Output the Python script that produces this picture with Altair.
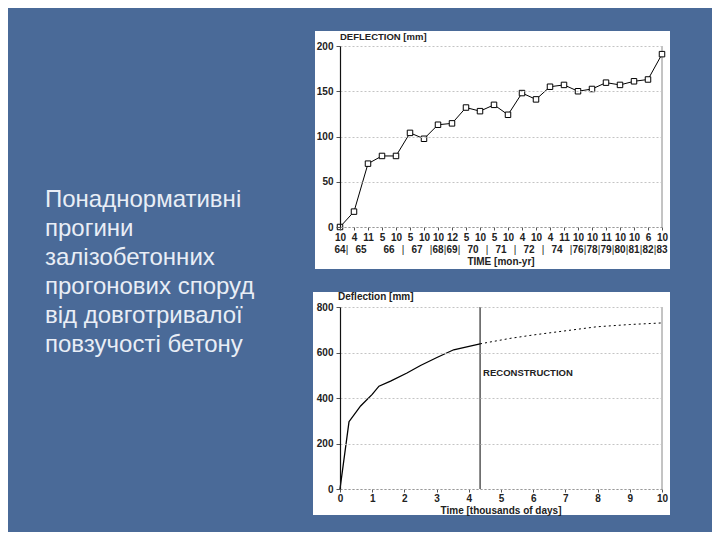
import altair as alt
import pandas as pd

# ---------------- data ----------------
slide_lines = ["Понаднормативні", "прогини", "залізобетонних",
               "прогонових споруд", "від довготривалої", "повзучості бетону"]

months = ["10", "4", "11", "5", "10", "5", "10", "10", "12", "5", "10", "5",
          "10", "4", "10", "4", "11", "10", "10", "11", "10", "10", "6", "10"]
deflection_top = [0, 17, 70, 78.5, 78.5, 104, 97.5, 113, 114.5, 132, 128, 135,
                  124, 148, 141, 155, 157, 150, 152.5, 159.5, 157, 161, 163, 191]
years = ["64", "65", "66", "67", "68", "69", "70", "71", "72", "74",
         "76", "78", "79", "80", "81", "82", "83"]
year_pos = [0, 1.5, 3.5, 5.5, 7, 8, 9.5, 11.5, 13.5, 15.5,
            17, 18, 19, 20, 21, 22, 23]
sep_pos = [0.5, 4.5, 6.5, 7.5, 8.5, 10.5, 12.5, 14.5, 16.5,
           17.5, 18.5, 19.5, 20.5, 21.5, 22.5]
top_y_ticks = [0, 50, 100, 150, 200]

measured_t = [0, 0.28, 0.64, 1.0, 1.21, 1.57, 2.08, 2.5, 3.01, 3.53, 4.35]
measured_d = [0, 296, 365, 416, 452, 474, 510, 543, 578, 612, 638]
predicted_t = [4.35, 5.28, 6.0, 6.93, 7.97, 9.0, 10.0]
predicted_d = [638, 662, 677, 694, 713, 723, 730]
reconstruction_t = 4.35
bottom_x_ticks = list(range(11))
bottom_y_ticks = [0, 200, 400, 600, 800]

# ---------------- style ----------------
BG = "#4a6a98"
FONT = "Liberation Sans"
W, H1, H2 = 322, 181, 182

one = pd.DataFrame({"k": [0]})

axis_common = dict(labelFont=FONT, labelFontSize=10, labelFontWeight="bold",
                   labelColor="#222", tickColor="#555", title=None, zindex=1)

# ---------------- top chart ----------------
top_df = pd.DataFrame({"idx": list(range(len(months))), "deflection": deflection_top})
yr_df = pd.DataFrame({"idx": year_pos, "year": years})
sep_df = pd.DataFrame({"idx": sep_pos, "s": ["|"] * len(sep_pos)})

month_expr = "[" + ",".join("'%s'" % m for m in months) + "][datum.value]"

x_top = alt.X("idx:Q", scale=alt.Scale(domain=[0, 23], nice=False, zero=False),
              axis=alt.Axis(values=list(range(24)), labelExpr=month_expr,
                            domainColor="#999", domainDash=[2, 2], grid=False,
                            tickSize=3, labelPadding=2, labelOverlap=False,
                            labelFlush=False, **axis_common))
y_top = alt.Y("deflection:Q", scale=alt.Scale(domain=[0, 200], nice=False),
              axis=alt.Axis(values=top_y_ticks, domainColor="#111", domainWidth=1.2,
                            grid=True, gridColor="#c4c4c4", gridDash=[2, 2],
                            tickSize=4, labelPadding=3, **axis_common))

# slide background: page area (8..712, 8..532) so nothing overflows the window
bg = alt.Chart(one).mark_rect(color=BG).encode(
    x=alt.value(-332), x2=alt.value(372), y=alt.value(-38), y2=alt.value(486))
white_top = alt.Chart(one).mark_rect(color="white").encode(
    x=alt.value(-25), x2=alt.value(330), y=alt.value(-15), y2=alt.value(223))
slide_text = alt.Chart(one).mark_text(
    text=slide_lines, align="left", baseline="alphabetic", font=FONT,
    fontSize=24, lineHeight=29, color="#e9eef6").encode(
    x=alt.value(-295), y=alt.value(161))
right_top = alt.Chart(one).mark_rule(color="#888", strokeWidth=1).encode(
    x=alt.value(W), y=alt.value(0), y2=alt.value(H1))
title_top = alt.Chart(one).mark_text(
    text="DEFLECTION [mm]", align="left", baseline="middle", font=FONT,
    fontSize=9.5, fontWeight="bold", color="#222").encode(
    x=alt.value(0), y=alt.value(-9))
xtitle_top = alt.Chart(one).mark_text(
    text="TIME [mon-yr]", align="center", baseline="middle", font=FONT,
    fontSize=10, fontWeight="bold", color="#222").encode(
    x=alt.value(W / 2), y=alt.value(H1 + 35))

line_top = alt.Chart(top_df).mark_line(color="black", strokeWidth=1).encode(x=x_top, y=y_top)
pts_top = alt.Chart(top_df).mark_point(shape="square", filled=True, fill="white",
                                       stroke="black", strokeWidth=1, size=30,
                                       opacity=1).encode(x=x_top, y=y_top)
year_txt = alt.Chart(yr_df).mark_text(font=FONT, fontSize=10, fontWeight="bold",
                                      color="#222", baseline="middle").encode(
    x=x_top, y=alt.value(H1 + 23), text="year:N")
sep_txt = alt.Chart(sep_df).mark_text(font=FONT, fontSize=10, color="#222",
                                      baseline="middle").encode(
    x=x_top, y=alt.value(H1 + 23), text="s:N")

top = alt.layer(bg, white_top, slide_text, right_top, line_top, pts_top,
                year_txt, sep_txt, title_top, xtitle_top).properties(width=W, height=H1)

# ---------------- bottom chart ----------------
meas_df = pd.DataFrame({"t": measured_t, "d": measured_d})
pred_df = pd.DataFrame({"t": predicted_t, "d": predicted_d})
rec_df = pd.DataFrame({"t": [reconstruction_t]})
rec_lbl = pd.DataFrame({"t": [reconstruction_t], "d": [510], "label": ["RECONSTRUCTION"]})

x_b = alt.X("t:Q", scale=alt.Scale(domain=[0, 10], nice=False, zero=False),
            axis=alt.Axis(values=bottom_x_ticks, domainColor="#999", domainDash=[2, 2],
                          grid=False, tickSize=3, labelPadding=1, labelFlush=False,
                          **axis_common))
y_b = alt.Y("d:Q", scale=alt.Scale(domain=[0, 800], nice=False),
            axis=alt.Axis(values=bottom_y_ticks, domainColor="#111", domainWidth=1.2,
                          grid=True, gridColor="#c4c4c4", gridDash=[2, 2],
                          tickSize=4, labelPadding=3, **axis_common))

white_b = alt.Chart(one).mark_rect(color="white").encode(
    x=alt.value(-27), x2=alt.value(330), y=alt.value(-15), y2=alt.value(208))
right_b = alt.Chart(one).mark_rule(color="#888", strokeWidth=1).encode(
    x=alt.value(W), y=alt.value(0), y2=alt.value(H2))
title_b = alt.Chart(one).mark_text(
    text="Deflection [mm]", align="left", baseline="middle", font=FONT,
    fontSize=10, fontWeight="bold", color="#222").encode(
    x=alt.value(-2), y=alt.value(-10))
xtitle_b = alt.Chart(one).mark_text(
    text="Time [thousands of days]", align="center", baseline="middle", font=FONT,
    fontSize=10, fontWeight="bold", color="#222").encode(
    x=alt.value(W / 2), y=alt.value(H2 + 22))

meas_line = alt.Chart(meas_df).mark_line(color="black", strokeWidth=1.3).encode(x=x_b, y=y_b)
pred_line = alt.Chart(pred_df).mark_line(color="black", strokeWidth=1,
                                         strokeDash=[2, 3]).encode(x=x_b, y=y_b)
rec_rule = alt.Chart(rec_df).mark_rule(color="black", strokeWidth=1).encode(
    x=x_b, y=alt.value(0), y2=alt.value(H2))
rec_text = alt.Chart(rec_lbl).mark_text(align="left", dx=3, baseline="middle",
                                        font=FONT, fontSize=9.5, fontWeight="bold",
                                        color="#222").encode(x=x_b, y=y_b, text="label:N")

bottom = alt.layer(white_b, right_b, meas_line, pred_line, rec_rule, rec_text,
                   title_b, xtitle_b).properties(width=W, height=H2)

chart = alt.vconcat(top, bottom, spacing=80, bounds="flush").properties(
    padding=0, autosize=alt.AutoSizeParams(type="pad")
).configure(background=BG).configure_view(stroke=None)

chart.save("out.html", embed_options={"renderer": "svg", "actions": False})
